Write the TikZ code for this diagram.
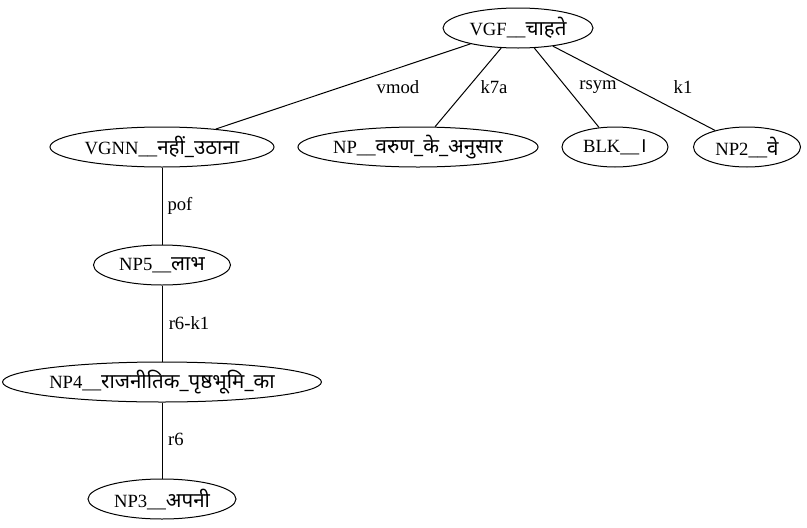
\documentclass[tikz,border=0pt]{standalone}
\usepackage{fontspec}
\setmainfont{Liberation Serif}
\newfontfamily\deva[Script=Devanagari,Scale=1.1]{Noto Sans}
\usetikzlibrary{shapes.geometric}
\newcommand\dv[1]{{\deva #1}}
\begin{document}
\begin{tikzpicture}[x=1pt,y=-1pt,
  nd/.style={ellipse, draw, line width=1pt, inner sep=0pt, minimum height=40pt, font=\fontsize{18.67}{20}\selectfont},
  lbl/.style={font=\fontsize{18.67}{20}\selectfont, inner sep=0pt},
  edge/.style={line width=1pt}]
\useasboundingbox (0,0) rectangle (807,528);
\node[nd, minimum width=150pt] (vgf) at (518,28) {VGF\_\_\dv{चाहते}};
\node[nd, minimum width=224pt] (vgnn) at (162,147) {VGNN\_\_\dv{नहीं\_उठाना}};
\node[nd, minimum width=238pt] (np) at (418,147) {NP\_\_\dv{वरुण\_के\_अनुसार}};
\node[nd, minimum width=106pt] (blk) at (615,147) {BLK\_\_\dv{।}};
\node[nd, minimum width=107pt] (np2) at (747,147) {NP2\_\_\dv{वे}};
\node[nd, minimum width=137pt] (np5) at (162,265) {NP5\_\_\dv{लाभ}};
\node[nd, minimum width=316pt] (np4) at (162,382) {NP4\_\_\dv{राजनीतिक\_पृष्ठभूमि\_का}};
\node[nd, minimum width=148pt] (np3) at (162,499) {NP3\_\_\dv{अपनी}};
\draw[edge] (vgf) -- (vgnn);
\draw[edge] (vgf) -- (np);
\draw[edge] (vgf) -- (blk);
\draw[edge] (vgf) -- (np2);
\draw[edge] (vgnn) -- (np5);
\draw[edge] (np5) -- (np4);
\draw[edge] (np4) -- (np3);
\node[lbl] (l1) at (398,87) {vmod};
\node[lbl] (l2) at (494,87) {k7a};
\node[lbl] (l3) at (598,87) {rsym};
\node[lbl] (l4) at (683,87) {k1};
\node[lbl] (l5) at (180,206) {pof};
\node[lbl] (l6) at (189,323) {r6-k1};
\node[lbl] (l7) at (176,439) {r6};
\end{tikzpicture}
\end{document}
